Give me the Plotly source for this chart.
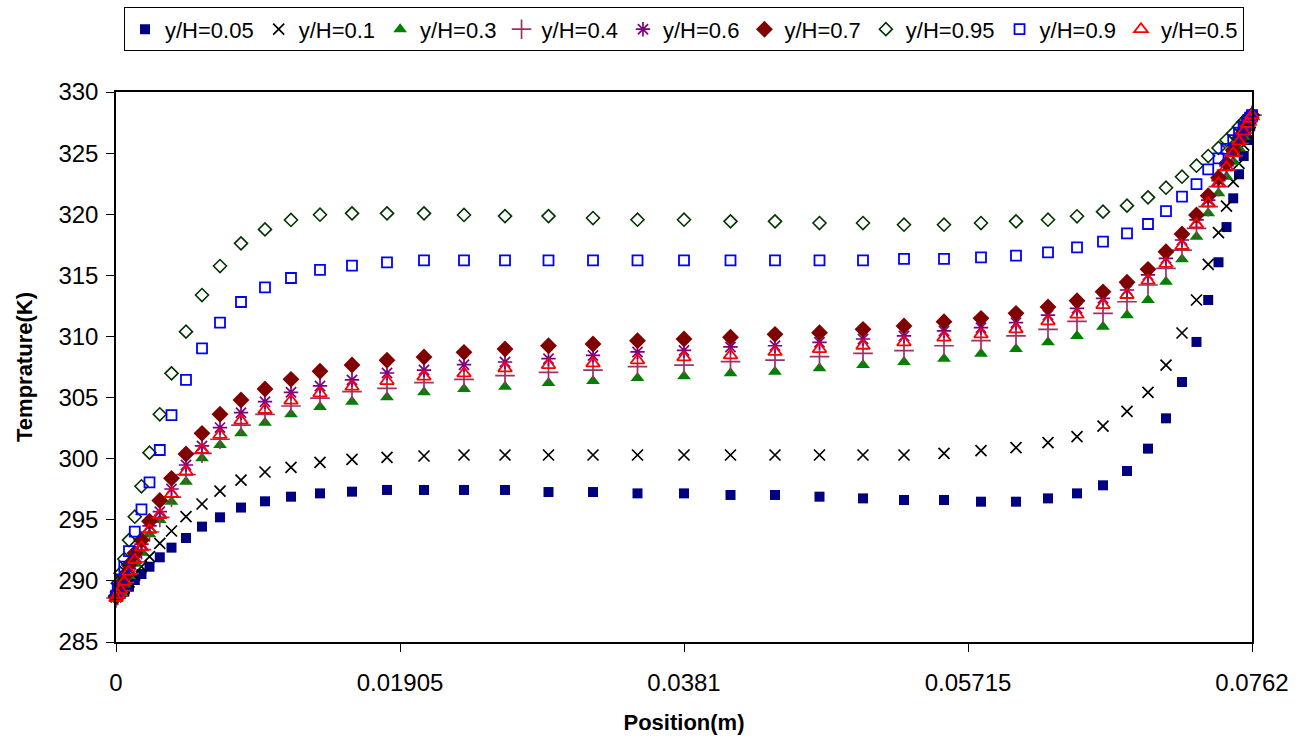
import plotly.graph_objects as go

# Position (m) of the sampling points
position = [0.0, 0.000121, 0.000302, 0.000557, 0.000872, 0.001261, 0.00171, 0.002247,
            0.002938, 0.003723, 0.004695, 0.005769, 0.006976, 0.008385, 0.009994, 0.011738,
            0.013684, 0.01583, 0.018178, 0.02066, 0.023343, 0.026093, 0.029011, 0.031996,
            0.034981, 0.0381, 0.041219, 0.044204, 0.047189, 0.050107, 0.052857, 0.05554,
            0.058022, 0.06037, 0.062516, 0.064462, 0.066206, 0.067815, 0.069224, 0.070431,
            0.071505, 0.072477, 0.073262, 0.073953, 0.07449, 0.074939, 0.075328, 0.075643,
            0.075898, 0.076079, 0.0762]

T_005 = [288.7, 288.8, 288.95, 289.12, 289.52, 290.07, 290.56, 291.16, 291.93, 292.72,
         293.51, 294.44, 295.2, 296.0, 296.51, 296.89, 297.16, 297.3, 297.44, 297.44,
         297.44, 297.44, 297.27, 297.27, 297.16, 297.16, 297.03, 297.03, 296.89, 296.75,
         296.62, 296.62, 296.48, 296.48, 296.75, 297.16, 297.82, 298.99, 300.82, 303.3,
         306.27, 309.55, 312.98, 316.07, 318.95, 321.3, 323.27, 324.76, 326.07, 327.2, 328.0]
T_01 = [288.7, 288.85, 289.1, 289.4, 289.9, 290.48, 291.16, 291.98, 293.07, 294.08,
        295.25, 296.29, 297.35, 298.25, 298.91, 299.29, 299.7, 299.95, 300.1, 300.22,
        300.3, 300.3, 300.3, 300.3, 300.3, 300.3, 300.3, 300.3, 300.3, 300.3,
        300.3, 300.44, 300.65, 300.9, 301.31, 301.8, 302.67, 303.87, 305.43, 307.66,
        310.28, 312.98, 315.9, 318.49, 320.67, 322.66, 324.16, 325.66, 326.7, 327.5, 328.0]
T_03 = [288.6, 288.8, 289.1, 289.7, 290.4, 291.4, 292.31, 293.81, 294.98, 296.48,
        298.11, 300.03, 301.12, 302.07, 302.94, 303.63, 304.23, 304.66, 305.02, 305.43,
        305.7, 305.89, 306.19, 306.35, 306.6, 306.74, 306.98, 307.12, 307.39, 307.66,
        307.91, 308.18, 308.59, 308.97, 309.52, 310.04, 310.8, 311.73, 312.98, 314.48,
        316.31, 318.16, 320.07, 321.71, 323.07, 324.3, 325.39, 326.34, 327.03, 327.6, 328.0]
T_04 = [288.6, 288.8, 289.2, 289.85, 290.6, 291.55, 292.55, 294.0, 295.2, 296.85,
        298.7, 300.44, 301.59, 302.75, 303.63, 304.31, 304.96, 305.48, 305.75, 306.22,
        306.49, 306.79, 307.06, 307.25, 307.53, 307.66, 307.94, 308.07, 308.35, 308.62,
        308.84, 309.24, 309.65, 310.04, 310.58, 311.24, 311.89, 312.84, 314.21, 315.57,
        317.07, 318.85, 320.62, 322.25, 323.6, 324.8, 325.8, 326.65, 327.3, 327.75, 328.1]
T_06 = [288.7, 289.0, 289.5, 290.15, 291.0, 291.95, 293.0, 294.5, 295.66, 297.52,
        299.48, 301.04, 302.54, 303.76, 304.66, 305.43, 305.95, 306.44, 307.01, 307.25,
        307.69, 307.91, 308.18, 308.45, 308.73, 308.86, 309.14, 309.24, 309.52, 309.79,
        310.04, 310.45, 310.72, 311.13, 311.75, 312.3, 313.12, 313.8, 315.03, 316.39,
        317.89, 319.53, 321.16, 322.75, 323.95, 325.1, 326.05, 326.8, 327.43, 327.82, 328.1]
T_07 = [288.7, 289.1, 289.7, 290.4, 291.3, 292.26, 293.34, 294.88, 296.58, 298.39,
        300.38, 302.07, 303.63, 304.8, 305.7, 306.49, 307.15, 307.66, 308.05, 308.32,
        308.7, 308.97, 309.24, 309.38, 309.65, 309.79, 309.93, 310.17, 310.31, 310.58,
        310.85, 311.21, 311.48, 311.89, 312.41, 312.93, 313.65, 314.43, 315.49, 316.93,
        318.38, 319.94, 321.52, 322.99, 324.16, 325.25, 326.21, 326.89, 327.49, 327.85, 328.1]
T_095 = [288.8, 289.8, 290.62, 291.79, 293.34, 295.25, 297.74, 300.49, 303.63, 306.98,
         310.39, 313.39, 315.76, 317.62, 318.76, 319.53, 319.96, 320.07, 320.07, 320.07,
         319.94, 319.85, 319.85, 319.69, 319.55, 319.55, 319.42, 319.42, 319.28, 319.28,
         319.14, 319.14, 319.28, 319.42, 319.55, 319.83, 320.21, 320.7, 321.38, 322.17,
         323.07, 323.97, 324.76, 325.42, 326.07, 326.62, 327.16, 327.57, 327.9, 328.05, 328.15]
T_09 = [288.75, 289.39, 290.13, 291.16, 292.44, 294.03, 295.85, 298.06, 300.71, 303.57,
        306.44, 309.03, 311.13, 312.82, 314.02, 314.78, 315.44, 315.79, 316.06, 316.23,
        316.23, 316.23, 316.23, 316.23, 316.23, 316.23, 316.23, 316.23, 316.23, 316.23,
        316.34, 316.34, 316.47, 316.61, 316.88, 317.29, 317.75, 318.44, 319.2, 320.26,
        321.44, 322.47, 323.67, 324.57, 325.34, 326.07, 326.67, 327.16, 327.57, 327.9, 328.1]
T_05 = [288.6, 288.85, 289.25, 289.93, 290.75, 291.71, 292.74, 294.17, 295.39, 297.11,
        298.93, 300.71, 301.94, 303.11, 303.98, 304.75, 305.35, 305.89, 306.35, 306.71,
        306.98, 307.39, 307.66, 307.8, 308.05, 308.29, 308.45, 308.73, 308.97, 309.24,
        309.52, 309.9, 310.17, 310.58, 311.24, 311.78, 312.57, 313.39, 314.56, 315.93,
        317.4, 319.17, 320.89, 322.53, 323.84, 324.98, 325.94, 326.75, 327.38, 327.8, 328.1]

series_names = ["y/H=0.05", "y/H=0.1", "y/H=0.3", "y/H=0.4", "y/H=0.6",
                "y/H=0.7", "y/H=0.95", "y/H=0.9", "y/H=0.5"]
series_values = [T_005, T_01, T_03, T_04, T_06, T_07, T_095, T_09, T_05]

x_tick_vals = [0, 0.01905, 0.0381, 0.05715, 0.0762]
x_tick_text = ["0", "0.01905", "0.0381", "0.05715", "0.0762"]
y_tick_vals = [285, 290, 295, 300, 305, 310, 315, 320, 325, 330]

styles = [
    dict(symbol="square", color="#000080", size=10, line=dict(width=0)),
    dict(symbol="x-thin-open", color="#000000", size=11, line=dict(width=1.7, color="#000000")),
    dict(symbol="triangle-up", color="#008000", size=12, line=dict(width=0)),
    dict(symbol="cross-thin-open", color="#993366", size=14, line=dict(width=1.7, color="#993366")),
    dict(symbol="asterisk-open", color="#800080", size=12, line=dict(width=1.7, color="#800080")),
    dict(symbol="diamond", color="#800000", size=13, line=dict(width=0)),
    dict(symbol="diamond-open", color="#003300", size=10, line=dict(width=1.6, color="#003300")),
    dict(symbol="square-open", color="#0000FF", size=10, line=dict(width=1.8, color="#0000FF")),
    dict(symbol="triangle-up-open", color="#FF0000", size=12, line=dict(width=1.8, color="#FF0000")),
]

fig = go.Figure()
for name, vals, st in zip(series_names, series_values, styles):
    fig.add_trace(go.Scatter(
        x=position, y=vals, mode="markers", name=name,
        marker=st, cliponaxis=False,
    ))

font_family = "Arial, Liberation Sans, sans-serif"
fig.update_layout(
    width=1298, height=738, autosize=False,
    paper_bgcolor="white", plot_bgcolor="white",
    margin=dict(l=116, r=46, t=92, b=96),
    font=dict(family=font_family, size=24, color="black"),
    showlegend=True,
    legend=dict(
        orientation="h", x=0.5, xanchor="center", y=0.99, yanchor="top",
        xref="paper", yref="container",
        bordercolor="black", borderwidth=1, bgcolor="white",
        font=dict(family=font_family, size=22, color="black"),
        itemwidth=30, tracegroupgap=0,
    ),
    xaxis=dict(
        range=[0, 0.0762], tickmode="array", tickvals=x_tick_vals, ticktext=x_tick_text,
        showgrid=False, zeroline=False, showline=True, linecolor="black", linewidth=1.5,
        mirror=True, ticks="outside", ticklen=8, tickcolor="black", tickwidth=1.2,
        tickfont=dict(size=24), ticklabelstandoff=10, automargin=False,
        title=dict(text="<b>Position(m)</b>", font=dict(size=22), standoff=20),
    ),
    yaxis=dict(
        range=[285, 330], tickmode="array", tickvals=y_tick_vals,
        showgrid=False, zeroline=False, showline=True, linecolor="black", linewidth=1.5,
        mirror=True, ticks="outside", ticklen=8, tickcolor="black", tickwidth=1.2,
        tickfont=dict(size=24), ticklabelstandoff=3, automargin=False,
        title=dict(text="<b>Temprature(K)</b>", font=dict(size=22), standoff=20),
    ),
)

fig.write_html("out.html", config={"displayModeBar": False},
               post_script="document.body.style.margin='0';")
